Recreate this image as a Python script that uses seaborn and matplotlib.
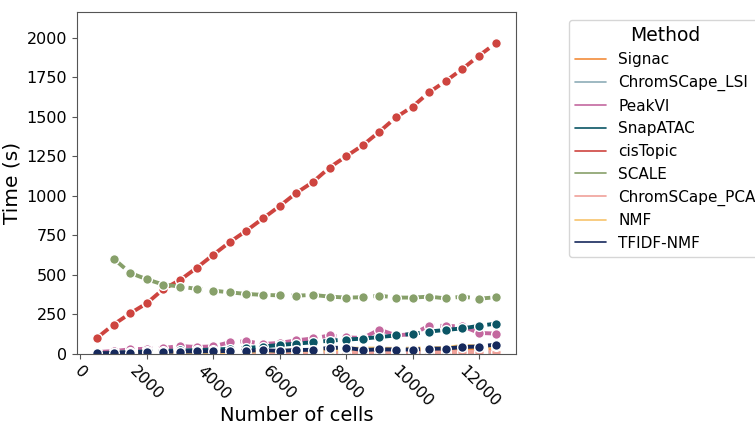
import matplotlib
matplotlib.use("Agg")
import matplotlib.pyplot as plt
import seaborn as sns
import pandas as pd

# Number of cells in each benchmark run
cells = [500, 1000, 1500, 2000, 2500, 3000, 3500, 4000, 4500, 5000, 5500, 6000, 6500,
         7000, 7500, 8000, 8500, 9000, 9500, 10000, 10500, 11000, 11500, 12000, 12500]

# Runtime in seconds for each method
signac = [1, 2, 3, 4, 5, 6, 7, 8, 9, 10, 11, 12, 14, 15, 17, 18, 20, 21, 22, 24, 25, 26, 30, 32, 34]
chromscape_lsi = [0.5, 1, 1, 1.5, 1.5, 2, 2, 2, 2.5, 2.5, 3, 3, 3, 3.5, 3.5, 4, 4, 4, 4.5, 4.5, 5, 5, 5, 5.5, 6]
peakvi = [10, 16, 27, 31, 36, 48, 42, 46, 72, 79, 61, 68, 84, 96, 115, 103, 99, 152, 116, 123,
          178, 175, 173, 131, 127]
snapatac = [3, 6, 10, 14, 17, 20, 22, 26, 30, 35, 45, 55, 63, 72, 82, 89, 95, 105, 115, 125,
            140, 150, 160, 176, 190]
cistopic = [99, 184, 255, 319, 409, 466, 543, 626, 707, 779, 857, 935, 1018, 1087, 1179, 1250,
            1320, 1406, 1497, 1565, 1656, 1727, 1804, 1888, 1966]
scale_cells = cells[1:]
scale = [602, 511, 471, 437, 425, 410, 399, 388, 378, 372, 369, 367, 372, 361, 355, 357, 367,
         355, 355, 361, 350, 361, 348, 357]
chromscape_pca = [1, 1, 2, 2, 3, 3, 3, 4, 4, 5, 5, 5, 6, 6, 7, 7, 7, 8, 8, 9, 9, 10, 10, 11, 12]
nmf = [1, 2, 3, 5, 6, 8, 9, 10, 12, 14, 15, 18, 20, 22, 26, 30, 32, 32, 30, 32, 34, 35, 50, 44, 46]
tfidf_nmf = [3, 4, 6, 9, 11, 13, 14, 15, 17, 18, 22, 17, 23, 24, 37, 37, 23, 27, 26, 26, 31, 32,
             42, 45, 57]

methods = ["Signac", "ChromSCape_LSI", "PeakVI", "SnapATAC", "cisTopic", "SCALE",
           "ChromSCape_PCA", "NMF", "TFIDF-NMF"]
colors = ["#F28C3B", "#8EADB8", "#C4689F", "#0B5565", "#CE443F", "#87A06A",
          "#F0A199", "#F7C46C", "#16295C"]

series = {
    "Signac": (cells, signac),
    "ChromSCape_LSI": (cells, chromscape_lsi),
    "PeakVI": (cells, peakvi),
    "SnapATAC": (cells, snapatac),
    "cisTopic": (cells, cistopic),
    "SCALE": (scale_cells, scale),
    "ChromSCape_PCA": (cells, chromscape_pca),
    "NMF": (cells, nmf),
    "TFIDF-NMF": (cells, tfidf_nmf),
}

rows = []
for name in methods:
    xs, ys = series[name]
    for x, y in zip(xs, ys):
        rows.append({"Number of cells": x, "Time (s)": y, "Method": name})
df = pd.DataFrame(rows)

sns.set_style("ticks")
plt.rcParams["font.family"] = ["DejaVu Sans"]
plt.rcParams["text.color"] = "black"
plt.rcParams["axes.labelcolor"] = "black"

fig = plt.figure(figsize=(7.55, 4.24), dpi=100)
ax = fig.add_axes([0.102, 0.166, 0.581, 0.806])

sns.lineplot(
    data=df, x="Number of cells", y="Time (s)", hue="Method",
    hue_order=methods, palette=dict(zip(methods, colors)),
    marker="o", markersize=7, markeredgecolor="white", markeredgewidth=1,
    linestyle="--", linewidth=2.8, ax=ax,
)

ax.set_ylim(0, 2165)
ax.set_xlabel("Number of cells", fontsize=14, color="black")
ax.set_ylabel("Time (s)", fontsize=14.5, color="black")
ax.xaxis.set_label_coords(0.5, -0.152)
ax.tick_params(axis="both", labelsize=11.5, colors="black", labelcolor="black")
ax.tick_params(axis="both", color="#555555")
plt.setp(ax.get_xticklabels(), rotation=-45)
for spine in ax.spines.values():
    spine.set_color("#555555")

leg = ax.legend(title="Method", loc="upper left", bbox_to_anchor=(1.105, 1.0),
                fontsize=11, title_fontsize=13.5, frameon=True)
for text in leg.get_texts():
    text.set_color("black")
leg.get_title().set_color("black")
for line in leg.get_lines():
    line.set_linestyle("-")
    line.set_linewidth(1.2)
    line.set_marker("")

fig.savefig("out.png", dpi=100)
